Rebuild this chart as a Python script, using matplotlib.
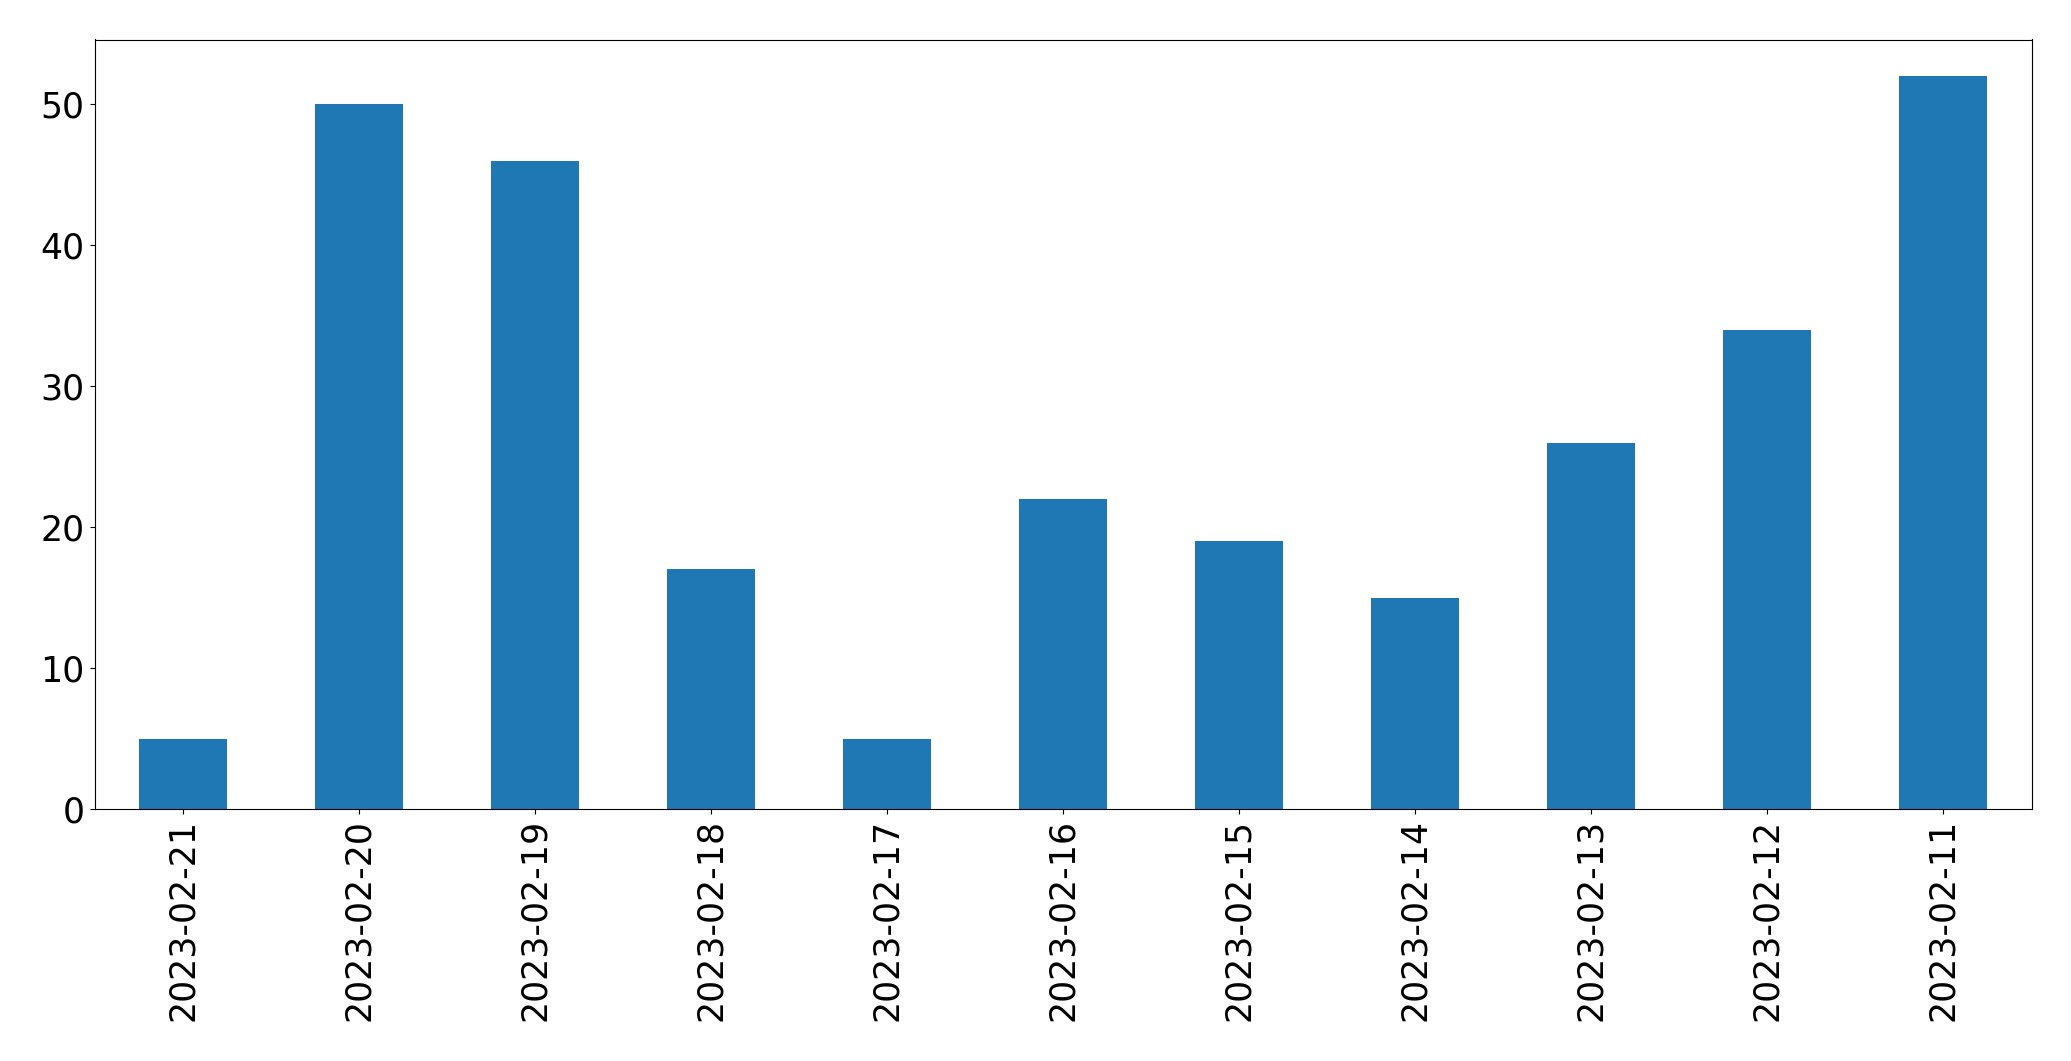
import matplotlib
matplotlib.use("Agg")
import matplotlib.pyplot as plt

dates = ["2023-02-21", "2023-02-20", "2023-02-19", "2023-02-18", "2023-02-17",
         "2023-02-16", "2023-02-15", "2023-02-14", "2023-02-13", "2023-02-12",
         "2023-02-11"]
counts = [5, 50, 46, 17, 5, 22, 19, 15, 26, 34, 52]

W, H = 2071, 1061
fig = plt.figure(figsize=(W / 100, H / 100), dpi=100)
left, right, top, bottom = 94.5, 2031.5, 39.5, 809
ax = fig.add_axes([left / W, 1 - bottom / H, (right - left) / W, (bottom - top) / H])

x = list(range(len(dates)))
ax.bar(x, counts, width=0.5, color="#1f77b4")
ax.set_xlim(-0.5, len(dates) - 0.5)
ax.set_ylim(0, max(counts) * 1.05)
ax.set_xticks(x)
ax.set_xticklabels(dates, rotation=90)
ax.set_yticks([0, 10, 20, 30, 40, 50])
ax.tick_params(labelsize=25)

fig.savefig("out.png", dpi=100)
